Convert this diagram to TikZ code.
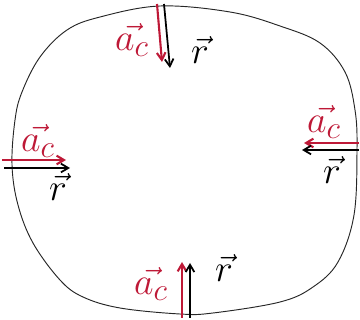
\documentclass[tikz,border=0pt]{standalone}
\usepackage{xcolor}
\usepackage{tikz}
\usetikzlibrary{arrows.meta, positioning}

\definecolor{tinta}{RGB}{190,25,55}

\begin{document}
\begin{tikzpicture}[
  x=0.03cm, y=-0.03cm,
  contorno/.style={draw=black!85, line width=0.8pt},
  acel/.style={draw=tinta, line width=1.8pt, -{Straight Barb[length=2.2mm, width=2.6mm]}},
  radio/.style={draw=black, line width=1.5pt, -{Straight Barb[length=2.2mm, width=2.6mm]}},
  etiqa/.style={text=tinta, font=\Huge, scale=1.3, inner sep=0pt},
  etiqr/.style={text=black, font=\Huge, scale=1.3, inner sep=0pt}
]
\useasboundingbox (0,0) rectangle (360,320);

% trayectoria
\draw[contorno] plot[smooth cycle, tension=0.6] coordinates {
  (160,6) (230,12) (280,26) (320,43) (345,72) (355,110) (357,150)
  (354,215) (338,262) (313,287) (280,302) (213,313) (180,314)
  (120,308) (83,297) (60,280) (33,243) (18,205) (12,165) (15,120)
  (22,92) (40,57) (67,30) (100,17)};

% puntos de las flechas
\coordinate (arriba-a0) at (157,4);   \coordinate (arriba-a1) at (162,62);
\coordinate (arriba-r0) at (164,4);   \coordinate (arriba-r1) at (170,68);
\coordinate (izq-a0) at (2,160);      \coordinate (izq-a1) at (66,160);
\coordinate (izq-r0) at (4,168);      \coordinate (izq-r1) at (70,168);
\coordinate (der-a0) at (359,143);    \coordinate (der-a1) at (304,143);
\coordinate (der-r0) at (359,150);    \coordinate (der-r1) at (302,150);
\coordinate (abajo-a0) at (182,318);  \coordinate (abajo-a1) at (182,262);
\coordinate (abajo-r0) at (190,318);  \coordinate (abajo-r1) at (190,263);

\draw[acel] (arriba-a0) -- (arriba-a1);
\draw[radio] (arriba-r0) -- (arriba-r1);
\draw[acel] (izq-a0) -- (izq-a1);
\draw[radio] (izq-r0) -- (izq-r1);
\draw[acel] (der-a0) -- (der-a1);
\draw[radio] (der-r0) -- (der-r1);
\draw[acel] (abajo-a0) -- (abajo-a1);
\draw[radio] (abajo-r0) -- (abajo-r1);

% etiquetas
\node[etiqa] (ac-arriba) at (132,40) {$\vec{a_c}$};
\node[etiqr] (r-arriba) at (200,50) {$\vec{r}$};
\node[etiqa] (ac-izq) at (38,141) {$\vec{a_c}$};
\node[etiqr] (r-izq) at (58,187) {$\vec{r}$};
\node[etiqa] (ac-der) at (324,122) {$\vec{a_c}$};
\node[etiqr] (r-der) at (332,170) {$\vec{r}$};
\node[etiqa] (ac-abajo) at (151,284) {$\vec{a_c}$};
\node[etiqr] (r-abajo) at (224,268) {$\vec{r}$};
\end{tikzpicture}
\end{document}
